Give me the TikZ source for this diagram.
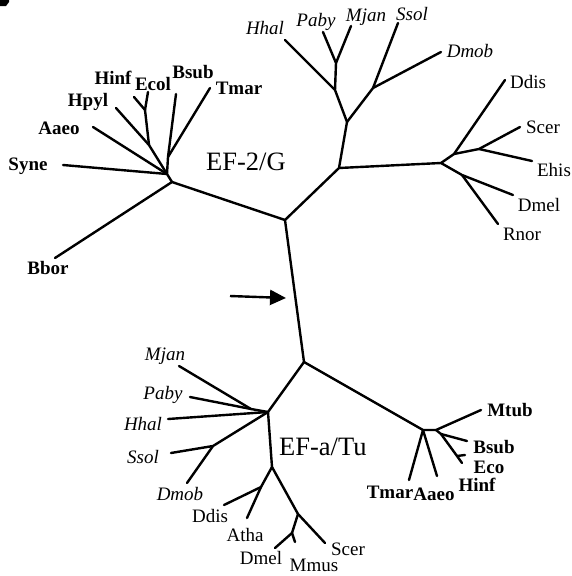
\documentclass[tikz,border=0pt]{standalone}
\usepackage{fontspec}
\setmainfont{Liberation Serif}
\usetikzlibrary{arrows.meta}
\begin{document}
\begin{tikzpicture}[x=1pt,y=-1pt,
  br/.style={line width=2.4pt, line cap=round, line join=round},
  lb/.style={font=\fontsize{19}{19}\selectfont\bfseries, inner sep=0pt},
  li/.style={font=\fontsize{19}{19}\selectfont\itshape, inner sep=0pt},
  lr/.style={font=\fontsize{19}{19}\selectfont, inner sep=0pt},
  big/.style={font=\fontsize{26.5}{26.5}\selectfont, inner sep=0pt, anchor=west}]
\useasboundingbox (0,0) rectangle (572,576);
% cut-off panel letter
\fill (0,0) -- (9,0) -- (9,2) -- (6,6) -- (0,6) -- cycle;
% ---------- EF-2/G ----------
\coordinate (R1) at (285,220);
\coordinate (R2) at (304,362);
\coordinate (L) at (172,182);
\coordinate (A) at (167,174);
\coordinate (D) at (149,145);
\coordinate (C) at (145,110);
\coordinate (E) at (168,157);
\coordinate (bbor) at (55,258);
\coordinate (syne) at (63,165);
\coordinate (aaeo) at (93,127);
\coordinate (hpyl) at (116,108);
\coordinate (hinf) at (134,97);
\coordinate (ecol) at (148,92);
\coordinate (bsub) at (176,94);
\coordinate (tmar) at (210,88);
\draw[br] (R1) -- (R2);
\draw[br] (R1) -- (L) -- (bbor);
\draw[br] (L) -- (A) -- (syne);
\draw[br] (A) -- (aaeo);
\draw[br] (A) -- (D) -- (hpyl);
\draw[br] (D) -- (C) -- (hinf);
\draw[br] (C) -- (ecol);
\draw[br] (A) -- (E) -- (bsub);
\draw[br] (E) -- (tmar);
\node[lb] (tBbor) at (48,268) {Bbor};
\node[lb] (tSyne) at (28,166) {Syne};
\node[lb] (tAaeo) at (59,128) {Aaeo};
\node[lb] (tHpyl) at (88,102) {Hpyl};
\node[lb] (tHinf) at (113,78) {Hinf};
\node[lb] (tEcol) at (153,84) {Ecol};
\node[lb] (tBsub) at (193,72) {Bsub};
\node[lb] (tTmar) at (239,88) {Tmar};
\node[big] (tEF2) at (206,162) {EF-2/G};
% archaea / eukarya part
\coordinate (M) at (339,168);
\coordinate (N) at (347,122);
\coordinate (P) at (335,90);
\coordinate (PM) at (336,63);
\coordinate (S) at (373,88);
\coordinate (Q) at (441,163);
\coordinate (U) at (454,154);
\coordinate (V) at (479,149);
\coordinate (W) at (462,175);
\coordinate (hhal) at (285,40);
\coordinate (paby) at (323,32);
\coordinate (mjan) at (351,26);
\coordinate (ssol) at (398,23);
\coordinate (dmob) at (441,52);
\coordinate (ddis) at (505,80);
\coordinate (scer) at (520,127);
\coordinate (ehis) at (532,161);
\coordinate (dmel) at (513,195);
\coordinate (rnor) at (498,224);
\draw[br] (R1) -- (M) -- (N) -- (P) -- (hhal);
\draw[br] (P) -- (PM) -- (paby);
\draw[br] (PM) -- (mjan);
\draw[br] (N) -- (S) -- (ssol);
\draw[br] (S) -- (dmob);
\draw[br] (M) -- (Q) -- (U) -- (ddis);
\draw[br] (U) -- (V) -- (scer);
\draw[br] (V) -- (ehis);
\draw[br] (Q) -- (W) -- (dmel);
\draw[br] (W) -- (rnor);
\node[li] (tHhal) at (265,28) {Hhal};
\node[li] (tPaby) at (316,22) {Paby};
\node[li] (tMjan) at (366,17) {Mjan};
\node[li] (tSsol) at (412,14) {Ssol};
\node[li] (tDmob) at (470,51) {Dmob};
\node[lr] (tDdis) at (528,82) {Ddis};
\node[lr] (tScer) at (543,127) {Scer};
\node[lr] (tEhis) at (554,170) {Ehis};
\node[lr] (tDmel) at (539,205) {Dmel};
\node[lr] (tRnor) at (522,234) {Rnor};
% arrow
\coordinate (arS) at (230,296);
\coordinate (arE) at (286,298);
\draw[br, line cap=butt, -{Triangle[length=16pt,width=15pt]}] (arS) -- (arE);
% ---------- EF-a/Tu ----------
\coordinate (T) at (268,412);
\coordinate (Tm) at (251,409);
\coordinate (Y) at (213,446);
\coordinate (Z) at (272,467);
\coordinate (AA) at (261,487);
\coordinate (BB) at (298,514);
\coordinate (CC) at (292,533);
\coordinate (mjanB) at (179,366);
\coordinate (pabyB) at (190,397);
\coordinate (hhalB) at (168,419);
\coordinate (ssolB) at (171,453);
\coordinate (dmobB) at (187,483);
\coordinate (ddisB) at (224,505);
\coordinate (atha) at (247,518);
\coordinate (scerB) at (325,543);
\coordinate (dmelB) at (275,548);
\coordinate (mmus) at (295,542);
\draw[br] (R2) -- (T) -- (Tm) -- (mjanB);
\draw[br] (Tm) -- (pabyB);
\draw[br] (T) -- (hhalB);
\draw[br] (T) -- (Y) -- (ssolB);
\draw[br] (Y) -- (dmobB);
\draw[br] (T) -- (Z) -- (AA) -- (ddisB);
\draw[br] (AA) -- (atha);
\draw[br] (Z) -- (BB) -- (scerB);
\draw[br] (BB) -- (CC) -- (dmelB);
\draw[br] (CC) -- (mmus);
\node[li] (bMjan) at (165,356) {Mjan};
\node[li] (bPaby) at (163,395) {Paby};
\node[li] (bHhal) at (143,424) {Hhal};
\node[li] (bSsol) at (143,457) {Ssol};
\node[li] (bDmob) at (180,494) {Dmob};
\node[big] (tEFa) at (279,447) {EF-a/Tu};
\node[lr] (bDdis) at (210,516) {Ddis};
\node[lr] (bAtha) at (245,535) {Atha};
\node[lr] (bDmel) at (261,558) {Dmel};
\node[lr] (bMmus) at (314,565) {Mmus};
\node[lr] (bScer) at (348,549) {Scer};
% bacterial Tu
\coordinate (X1) at (423,430);
\coordinate (X2) at (436,430);
\coordinate (DD) at (441,434);
\coordinate (EE) at (457,456);
\coordinate (mtub) at (481,410);
\coordinate (bsubB) at (467,441);
\coordinate (ecoB) at (465,455);
\coordinate (hinfB) at (462,463);
\coordinate (tmarB) at (409,480);
\coordinate (aaeoB) at (437,476);
\draw[br] (R2) -- (X1) -- (X2) -- (mtub);
\draw[br] (X2) -- (DD) -- (bsubB);
\draw[br] (DD) -- (EE) -- (hinfB);
\draw[br] (EE) -- (ecoB);
\draw[br] (X1) -- (tmarB);
\draw[br] (X1) -- (aaeoB);
\node[lb] (bMtub) at (510,410) {Mtub};
\node[lb] (bBsub) at (494,447.5) {Bsub};
\node[lb] (bEco) at (489,467) {Eco};
\node[lb] (bHinf) at (477,485) {Hinf};
\node[lb] (bTmar) at (390,492) {Tmar};
\node[lb] (bAaeo) at (434,494) {Aaeo};
\end{tikzpicture}
\end{document}
